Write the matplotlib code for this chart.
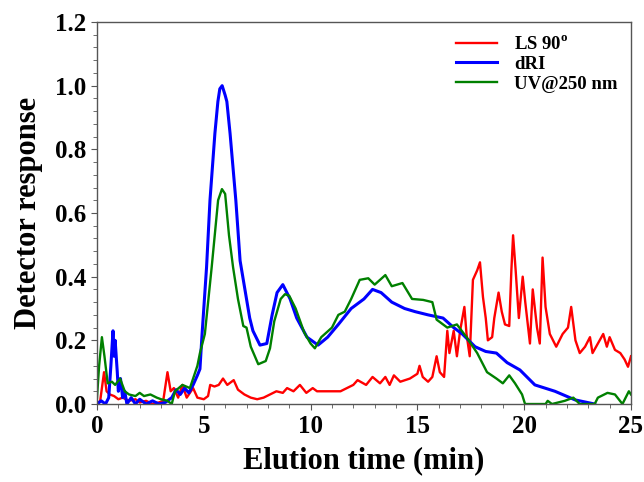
import matplotlib
matplotlib.use('Agg')
import matplotlib.pyplot as plt
from matplotlib.ticker import MultipleLocator

plt.rcParams['font.family'] = ['Liberation Serif', 'DejaVu Serif']
plt.rcParams['font.weight'] = 'bold'
plt.rcParams['mathtext.fontset'] = 'custom'
plt.rcParams['mathtext.rm'] = 'Liberation Serif:bold'
plt.rcParams['mathtext.bf'] = 'Liberation Serif:bold'

# LS 90 deg trace (time in min, response)
ls_t = [0.0, 0.15, 0.33, 0.45, 0.6, 0.8, 1.0, 1.2, 1.5, 1.8, 2.0, 2.3, 2.6, 2.9,
        3.1, 3.3, 3.45, 3.6, 3.8, 4.0, 4.2, 4.5, 4.7, 5.0, 5.2, 5.3, 5.5, 5.7,
        5.9, 6.1, 6.4, 6.6, 6.9, 7.2, 7.5, 7.8, 8.1, 8.4, 8.7, 8.9, 9.2, 9.5,
        9.8, 10.1, 10.3, 10.8, 11.4, 12.0, 12.2, 12.6, 12.9, 13.25, 13.5, 13.7,
        13.9, 14.2, 14.65, 15.0, 15.1, 15.25, 15.5, 15.7, 15.9, 16.05, 16.25,
        16.4, 16.5, 16.7, 16.85, 17.0, 17.2, 17.3, 17.45, 17.6, 17.8, 17.93,
        18.07, 18.2, 18.3, 18.5, 18.6, 18.8, 18.95, 19.1, 19.3, 19.4, 19.48,
        19.6, 19.75, 19.93, 20.05, 20.27, 20.4, 20.6, 20.73, 20.86, 21.0, 21.2,
        21.5, 21.8, 22.05, 22.2, 22.4, 22.6, 22.85, 23.08, 23.2, 23.45, 23.7,
        23.87, 24.0, 24.25, 24.5, 24.7, 24.86, 25.0]
ls_y = [0.0, 0.01, 0.10, 0.04, 0.03, 0.025, 0.015, 0.02, 0.01, 0.015, 0.005, 0.01, 0.0, 0.005,
        0.01, 0.10, 0.04, 0.05, 0.02, 0.06, 0.02, 0.05, 0.02, 0.015, 0.025, 0.06, 0.055, 0.06,
        0.08, 0.06, 0.075, 0.045, 0.03, 0.02, 0.015, 0.02, 0.03, 0.04, 0.035, 0.05, 0.04, 0.06,
        0.035, 0.05, 0.04, 0.04, 0.04, 0.06, 0.075, 0.06, 0.085, 0.065, 0.085, 0.06,
        0.09, 0.07, 0.08, 0.095, 0.12, 0.085, 0.07, 0.085, 0.15, 0.10, 0.085,
        0.23, 0.16, 0.23, 0.15, 0.23, 0.305, 0.22, 0.15, 0.39, 0.42, 0.445,
        0.336, 0.27, 0.20, 0.21, 0.27, 0.35, 0.29, 0.25, 0.245, 0.42, 0.53,
        0.42, 0.27, 0.40, 0.32, 0.19, 0.36, 0.24, 0.19, 0.46, 0.305, 0.22,
        0.18, 0.22, 0.24, 0.305, 0.20, 0.16, 0.18, 0.21, 0.16, 0.19, 0.22,
        0.18, 0.21, 0.17, 0.16, 0.14, 0.117, 0.15]

# dRI trace
ri_t = [0.0, 0.2, 0.4, 0.55, 0.65, 0.75, 0.8, 0.85, 0.95, 1.0, 1.1, 1.2, 1.3, 1.4,
        1.6, 1.8, 2.0, 2.3, 2.6, 2.9, 3.2, 3.5, 3.7, 3.9, 4.1, 4.3, 4.5, 4.7,
        4.82, 4.92, 5.13, 5.29, 5.52, 5.66, 5.75, 5.86, 6.0, 6.08, 6.23, 6.5,
        6.7, 7.0, 7.15, 7.3, 7.63, 7.95, 8.2, 8.43, 8.7, 9.04, 9.35, 9.83, 10.35,
        10.8, 11.3, 11.9, 12.5, 12.9, 13.3, 13.8, 14.4, 14.9, 15.5, 16.2, 16.7,
        17.1, 17.7, 18.2, 18.7, 19.2, 19.8, 20.5, 21.44, 22.38, 23.3]
ri_y = [0.0, 0.01, 0.0, 0.02, 0.12, 0.23, 0.15, 0.20, 0.10, 0.04, 0.08, 0.02, 0.04, 0.0,
        0.02, 0.0, 0.015, 0.0, 0.01, 0.0, 0.005, 0.02, 0.045, 0.03, 0.05, 0.035, 0.06, 0.09,
        0.11, 0.22, 0.43, 0.64, 0.85, 0.95, 0.99, 1.0, 0.97, 0.95, 0.85, 0.64,
        0.45, 0.33, 0.27, 0.23, 0.185, 0.19, 0.28, 0.35, 0.375, 0.33, 0.27, 0.21, 0.185,
        0.21, 0.25, 0.30, 0.33, 0.36, 0.35, 0.32, 0.30, 0.29, 0.28, 0.27, 0.24,
        0.22, 0.18, 0.165, 0.16, 0.13, 0.107, 0.06, 0.04, 0.013, 0.0]

# UV@250 nm trace
uv_t = [0.0, 0.1, 0.23, 0.35, 0.5, 0.7, 0.85, 1.08, 1.3, 1.5, 1.8, 2.0, 2.2, 2.5,
        2.8, 3.0, 3.3, 3.5, 3.65, 4.0, 4.35, 4.5, 4.7, 4.82, 5.05, 5.37, 5.67,
        5.85, 6.0, 6.18, 6.37, 6.6, 6.85, 7.0, 7.2, 7.55, 7.9, 8.1, 8.3, 8.6,
        8.8, 9.0, 9.3, 9.7, 10.0, 10.2, 10.5, 11.0, 11.3, 11.6, 11.9, 12.3,
        12.7, 13.0, 13.5, 13.8, 14.3, 14.75, 15.27, 15.7, 15.9, 16.4, 16.85,
        17.3, 17.8, 18.26, 18.7, 19.0, 19.3, 19.57, 19.9, 20.04, 21.0, 21.1,
        21.3, 21.9, 22.3, 22.6, 23.3, 23.45, 23.9, 24.25, 24.6, 24.9, 25.0]
uv_y = [0.02, 0.12, 0.21, 0.15, 0.065, 0.07, 0.06, 0.08, 0.04, 0.03, 0.025, 0.035, 0.025, 0.03,
        0.02, 0.015, 0.01, 0.0, 0.04, 0.06, 0.05, 0.08, 0.12, 0.16, 0.22, 0.43, 0.64,
        0.675, 0.66, 0.53, 0.43, 0.33, 0.245, 0.24, 0.18, 0.125, 0.135, 0.175, 0.26, 0.33,
        0.345, 0.34, 0.30, 0.225, 0.19, 0.175, 0.21, 0.24, 0.28, 0.29, 0.33, 0.39,
        0.395, 0.375, 0.405, 0.37, 0.38, 0.33, 0.327, 0.32, 0.265, 0.24, 0.25,
        0.21, 0.16, 0.10, 0.08, 0.065, 0.09, 0.065, 0.03, 0.0, 0.0, 0.01,
        0.0, 0.01, 0.02, 0.0, 0.0, 0.02, 0.035, 0.03, 0.0, 0.04, 0.03]

fig = plt.figure(figsize=(6.44, 4.82), dpi=100)
ax = fig.add_axes([0.1506, 0.1618, 0.8292, 0.7926])

ax.plot(ls_t, ls_y, color='#ff0000', lw=1.7, label=r'LS 90$^{\mathrm{o}}$')
ax.plot(ri_t, ri_y, color='#0000ff', lw=2.2, label='dRI')
ax.plot(uv_t, uv_y, color='#008000', lw=1.7, label='UV@250 nm')

ax.set_xlim(0, 25)
ax.set_ylim(0, 1.2)
ax.xaxis.set_major_locator(MultipleLocator(5))
ax.xaxis.set_minor_locator(MultipleLocator(1))
ax.yaxis.set_major_locator(MultipleLocator(0.2))
ax.yaxis.set_minor_locator(MultipleLocator(0.04))
ax.yaxis.set_major_formatter(plt.FormatStrFormatter('%.1f'))
ax.tick_params(which='both', direction='out', top=False, right=False,
               color='#555555', labelsize=18)
ax.tick_params(which='major', length=4, pad=4)
ax.tick_params(which='minor', length=3)
for s in ax.spines.values():
    s.set_color('#555555')
    s.set_linewidth(1.0)

ax.set_xlabel('Elution time (min)', fontsize=22, fontweight='bold', labelpad=6)
ax.set_ylabel('Detector response', fontsize=22, fontweight='bold', labelpad=8)

ax.legend(loc='upper right', frameon=False, handlelength=2.2, handletextpad=0.9,
          borderaxespad=0.3, labelspacing=0.15,
          prop={'weight': 'bold', 'size': 13.5})

fig.savefig('out.png', dpi=100)
